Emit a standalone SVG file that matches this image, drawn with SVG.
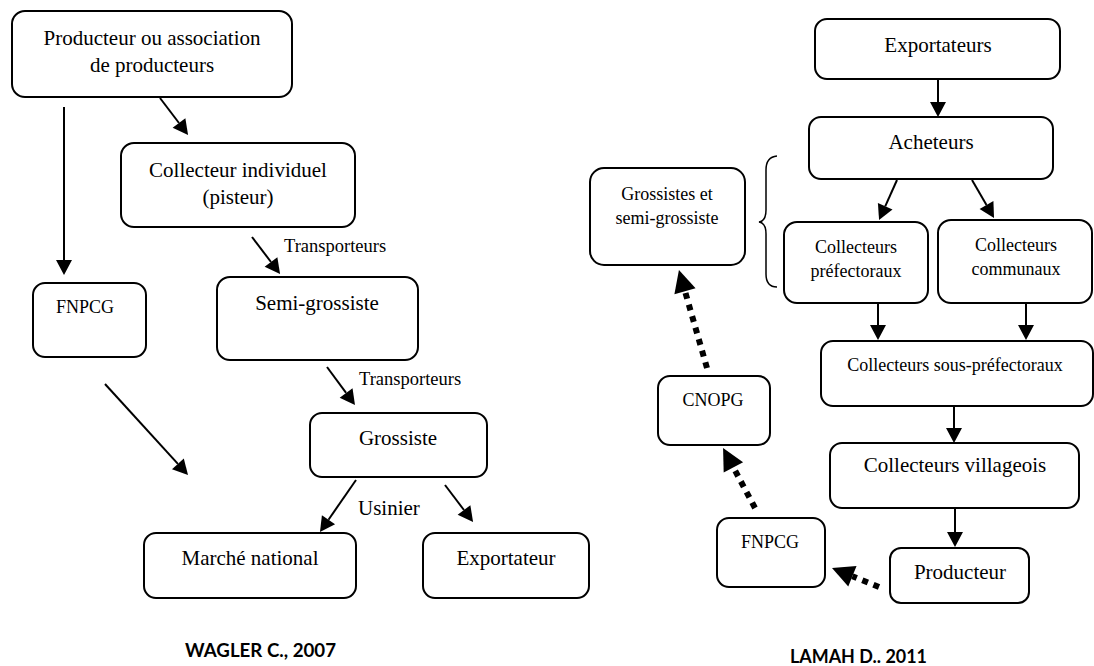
<svg xmlns="http://www.w3.org/2000/svg" width="1094" height="666" viewBox="0 0 1094 666">
<style>
  .box { fill: #fff; stroke: #000; stroke-width: 2; }
  .t { font-family: "Liberation Serif", "Times New Roman", serif; font-size: 21px; fill: #000; text-anchor: middle; }
  .s { font-family: "Liberation Serif", "Times New Roman", serif; font-size: 18px; fill: #000; text-anchor: middle; }
  .lbl { font-family: "Liberation Serif", "Times New Roman", serif; font-size: 18.5px; fill: #000; }
  .ref { font-family: Lato, "Open Sans", "Liberation Sans", sans-serif; font-size: 19px; font-weight: bold; fill: #000; }
  .arr { fill: none; stroke: #000; stroke-width: 2; marker-end: url(#ah); }
  .dot { fill: none; stroke: #000; stroke-width: 6; stroke-dasharray: 6 6; marker-end: url(#dh); }
  .plain { fill: none; stroke: #000; stroke-width: 1.5; }
</style>
<defs>
  <marker id="ah" markerUnits="userSpaceOnUse" markerWidth="16" markerHeight="16" refX="0" refY="8" orient="auto" overflow="visible">
    <path d="M0,0 L15,8 L0,16 z" fill="#000"/>
  </marker>
  <marker id="dh" markerUnits="userSpaceOnUse" markerWidth="24" markerHeight="24" refX="0" refY="11" orient="auto" overflow="visible">
    <path d="M0,0 L22,11 L0,22 z" fill="#000"/>
  </marker>
</defs>
<rect width="1094" height="666" fill="#fff"/>

<!-- Left diagram -->
<g id="producteur-assoc">
  <rect class="box" x="12" y="11" width="280" height="86" rx="13"/>
  <text class="t" x="152" y="45">Producteur ou association</text>
  <text class="t" x="152" y="72">de producteurs</text>
</g>
<g id="collecteur-individuel">
  <rect class="box" x="121" y="143" width="234" height="84" rx="13"/>
  <text class="t" x="238" y="177">Collecteur individuel</text>
  <text class="t" x="238" y="204">(pisteur)</text>
</g>
<g id="fnpcg-left">
  <rect class="box" x="33" y="283" width="113" height="74" rx="12"/>
  <text class="s" x="85" y="313">FNPCG</text>
</g>
<g id="semi-grossiste">
  <rect class="box" x="217" y="277" width="201" height="83" rx="13"/>
  <text class="t" x="317" y="310">Semi-grossiste</text>
</g>
<g id="grossiste">
  <rect class="box" x="310" y="413" width="177" height="64" rx="12"/>
  <text class="t" x="398" y="445">Grossiste</text>
</g>
<g id="marche-national">
  <rect class="box" x="144" y="533" width="212" height="65" rx="12"/>
  <text class="t" x="250" y="565">Marché national</text>
</g>
<g id="exportateur">
  <rect class="box" x="423" y="533" width="166" height="65" rx="12"/>
  <text class="t" x="506" y="565">Exportateur</text>
</g>
<g id="labels-left">
  <text class="lbl" x="284" y="252">Transporteurs</text>
  <text class="lbl" x="359" y="385">Transporteurs</text>
  <text class="t" x="358" y="515" style="text-anchor:start">Usinier</text>
  <text class="ref" x="185" y="657" textLength="151" lengthAdjust="spacingAndGlyphs">WAGLER C., 2007</text>
</g>

<!-- Right diagram -->
<g id="exportateurs">
  <rect class="box" x="815" y="19" width="245" height="60" rx="12"/>
  <text class="t" x="938" y="52">Exportateurs</text>
</g>
<g id="acheteurs">
  <rect class="box" x="809" y="117" width="244" height="62" rx="12"/>
  <text class="t" x="931" y="149">Acheteurs</text>
</g>
<g id="grossistes-semi">
  <rect class="box" x="590" y="168" width="155" height="97" rx="14"/>
  <text class="s" x="667" y="200">Grossistes et</text>
  <text class="s" x="667" y="224">semi-grossiste</text>
</g>
<g id="collecteurs-prefectoraux">
  <rect class="box" x="784" y="222" width="144" height="81" rx="13"/>
  <text class="s" x="856" y="253">Collecteurs</text>
  <text class="s" x="856" y="277">préfectoraux</text>
</g>
<g id="collecteurs-communaux">
  <rect class="box" x="938" y="220" width="154" height="83" rx="13"/>
  <text class="s" x="1016" y="251">Collecteurs</text>
  <text class="s" x="1016" y="275">communaux</text>
</g>
<g id="collecteurs-sous-prefectoraux">
  <rect class="box" x="821" y="341" width="272" height="65" rx="12"/>
  <text class="s" x="955" y="371">Collecteurs sous-préfectoraux</text>
</g>
<g id="collecteurs-villageois">
  <rect class="box" x="830" y="443" width="249" height="65" rx="12"/>
  <text class="t" x="955" y="472">Collecteurs villageois</text>
</g>
<g id="producteur">
  <rect class="box" x="890" y="548" width="139" height="55" rx="11"/>
  <text class="t" x="960" y="579">Producteur</text>
</g>
<g id="fnpcg-right">
  <rect class="box" x="717" y="518" width="108" height="69" rx="12"/>
  <text class="s" x="770" y="548">FNPCG</text>
</g>
<g id="cnopg">
  <rect class="box" x="658" y="376" width="112" height="69" rx="12"/>
  <text class="s" x="713" y="406">CNOPG</text>
</g>
<g id="labels-right">
  <text class="ref" x="790" y="663" textLength="137" lengthAdjust="spacingAndGlyphs">LAMAH D.. 2011</text>
</g>

<g id="connectors">
  <!-- left -->
  <line class="arr" x1="160" y1="98" x2="179" y2="123"/>
  <line class="arr" x1="64" y1="107" x2="64" y2="260"/>
  <line class="arr" x1="252" y1="237" x2="271" y2="262"/>
  <line class="arr" x1="327" y1="367" x2="346.1" y2="392.9"/>
  <line class="arr" x1="105" y1="384" x2="177.9" y2="463.9"/>
  <line class="arr" x1="356" y1="480" x2="328.5" y2="519.7"/>
  <line class="arr" x1="445" y1="485" x2="464" y2="510"/>
  <!-- right -->
  <line class="arr" x1="938" y1="79" x2="938" y2="102"/>
  <line class="arr" x1="897" y1="180" x2="885.2" y2="206.3"/>
  <line class="arr" x1="972" y1="180" x2="986.5" y2="205"/>
  <line class="arr" x1="878" y1="303" x2="878" y2="325"/>
  <line class="arr" x1="1026" y1="303" x2="1026" y2="325"/>
  <line class="arr" x1="954" y1="406" x2="954" y2="428"/>
  <line class="arr" x1="955" y1="508" x2="955" y2="532"/>
  <!-- brace -->
  <path class="plain" d="M777,156 Q766,157 766,170 L766,210 Q766,221 759,222 Q766,223 766,234 L766,274 Q766,287 777,287"/>
  <!-- dotted -->
  <line class="dot" x1="707" y1="368" x2="685" y2="291.2"/>
  <line class="dot" x1="755" y1="508" x2="733.4" y2="467.4"/>
  <line class="dot" x1="879" y1="587" x2="852.4" y2="576.2"/>
</g>
</svg>
